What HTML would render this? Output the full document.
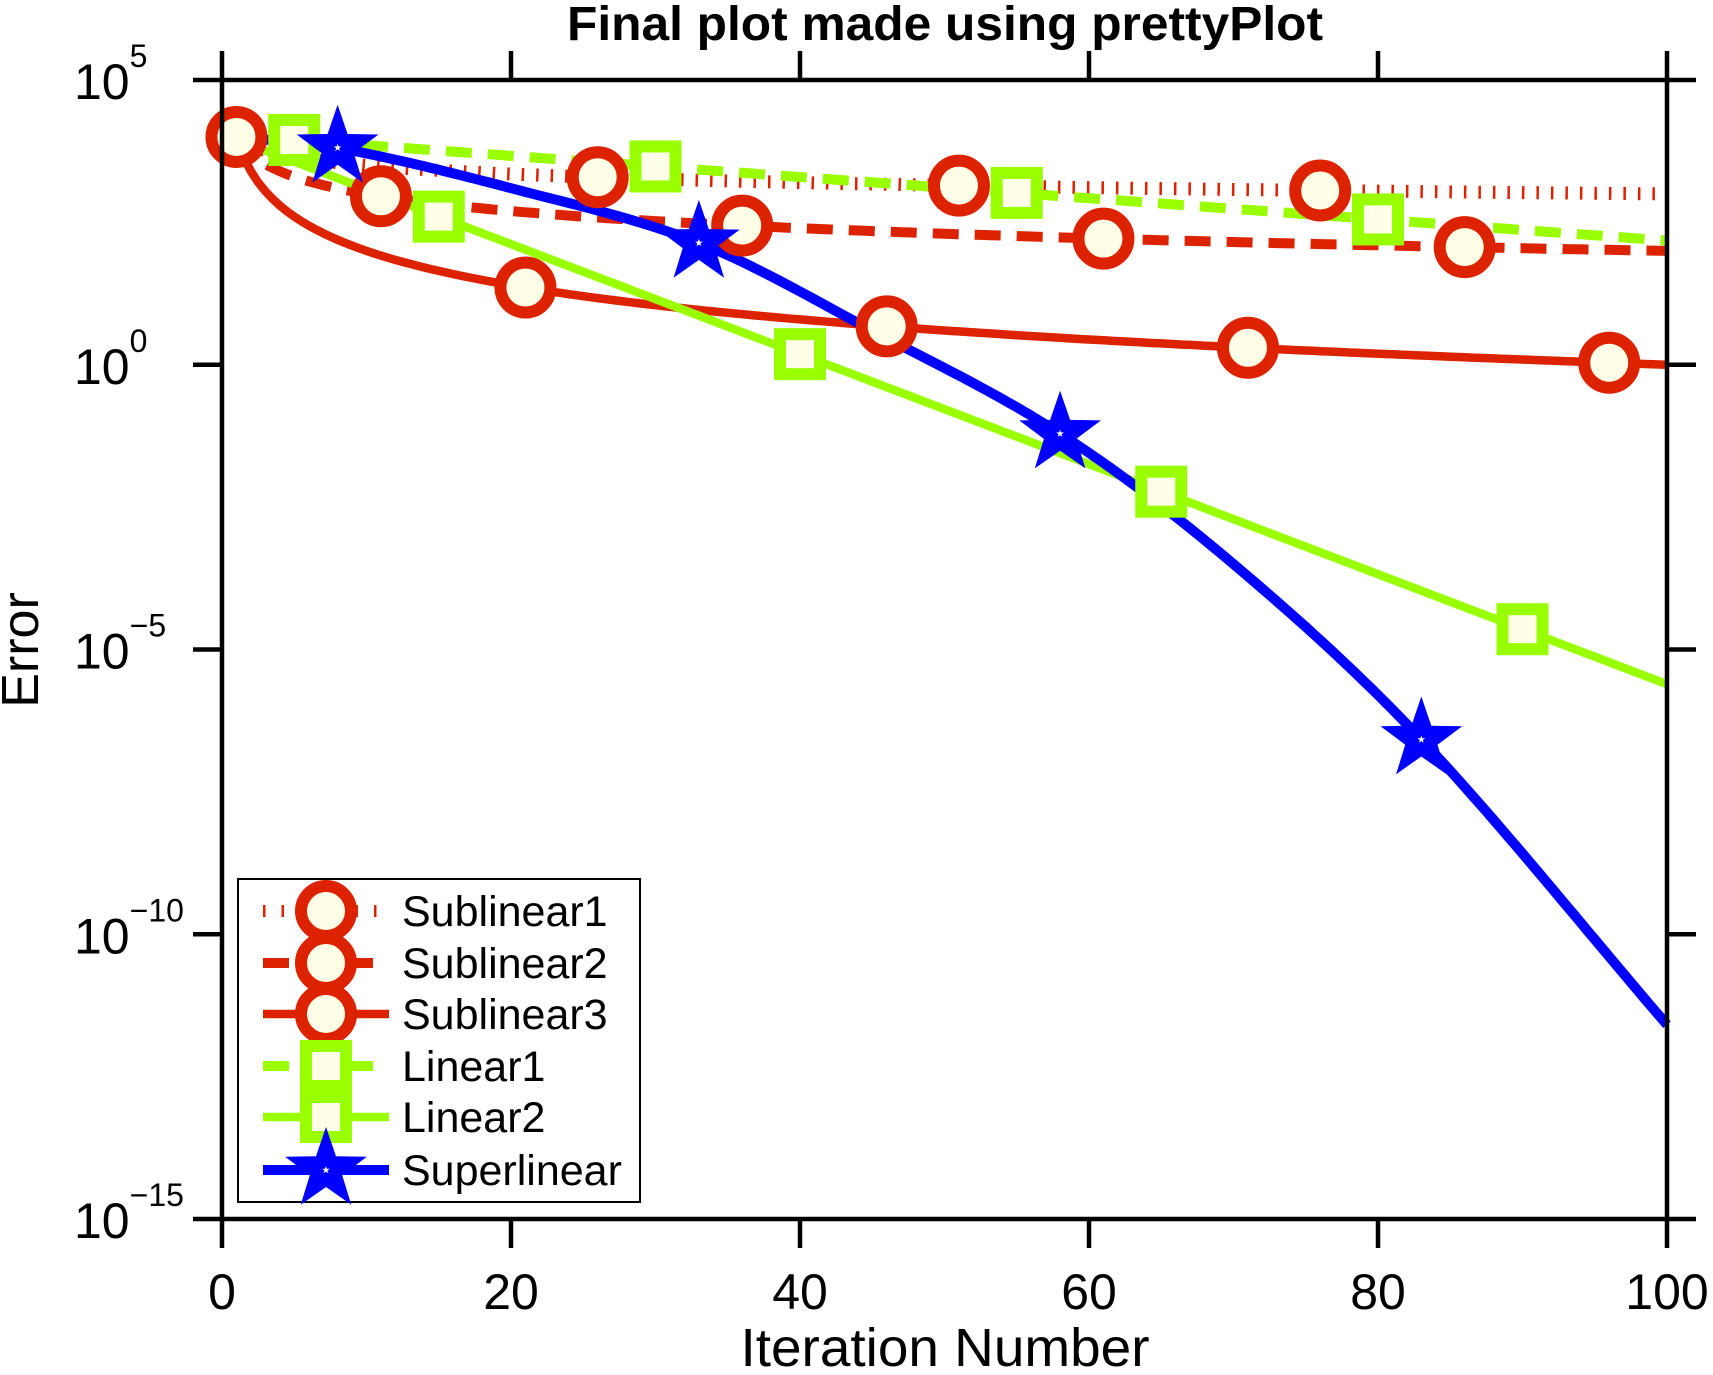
<!DOCTYPE html>
<html><head><meta charset="utf-8"><style>
html,body{margin:0;padding:0;background:#fff;}
svg{display:block;font-family:"Liberation Sans",sans-serif;}
</style></head><body>
<svg id="s" width="1713" height="1375" xmlns="http://www.w3.org/2000/svg"></svg>
<script>
const S=document.getElementById('s');
const X0=222,X1=1667,Y0=80,Y1=1219,D=(Y1-Y0)/20;
const px=x=>X0+x*(X1-X0)/100, py=l=>Y0+(5-l)*D;
let h='';
const RED='#dd2200',GRN='#99ff00',BLU='#0000ff',IV='#ffffe8';
function path(f,attrs){let d='';for(let x=1;x<=100;x+=0.5){d+=(x==1?'M':'L')+px(x).toFixed(1)+' '+py(f(x)).toFixed(1);}h+=`<path d="${d}" fill="none" ${attrs}/>`;}
const L=Math.log10;
const s1=x=>4-0.5*L(x), s2=x=>4-L(x), s3=x=>4-2*L(x);
const l1=x=>4.04-0.0186*x, l2=x=>4.05-0.0966*x;
const T=[[1,4.0],[8,3.81],[20,3.1],[33,2.14],[45,0.6],[58,-1.21],[70,-3.5],[83,-6.58],[100,-11.59]];
function sup(x){for(let i=0;i<T.length-1;i++){if(x<=T[i+1][0]){const a=T[i],b=T[i+1];const p0=T[Math.max(i-1,0)],p3=T[Math.min(i+2,T.length-1)];const t=(x-a[0])/(b[0]-a[0]);
const m1=(b[1]-p0[1])/(b[0]-p0[0])*(b[0]-a[0]),m2=(p3[1]-a[1])/(p3[0]-a[0])*(b[0]-a[0]);
const t2=t*t,t3=t2*t;return (2*t3-3*t2+1)*a[1]+(t3-2*t2+t)*m1+(-2*t3+3*t2)*b[1]+(t3-t2)*m2;}}return T[T.length-1][1];}
path(s1,`stroke="${RED}" stroke-width="13" stroke-dasharray="2.5 12"`);
path(s2,`stroke="${RED}" stroke-width="10" stroke-dasharray="26 16"`);
path(s3,`stroke="${RED}" stroke-width="8.5"`);
path(l1,`stroke="${GRN}" stroke-width="10" stroke-dasharray="26 16"`);
path(l2,`stroke="${GRN}" stroke-width="8.5"`);
path(sup,`stroke="${BLU}" stroke-width="10"`);
function circ(x,y){h+=`<circle cx="${x}" cy="${y}" r="25" fill="${IV}" stroke="${RED}" stroke-width="12"/>`;}
function sq(x,y){h+=`<rect x="${x-20}" y="${y-20}" width="40" height="40" fill="${IV}" stroke="${GRN}" stroke-width="12"/>`;}
function star(x,y){let d='';for(let i=0;i<10;i++){const r=i%2?17:43;const a=-Math.PI/2+i*Math.PI/5;d+=(i?'L':'M')+(x+r*Math.cos(a)).toFixed(1)+' '+(y+r*Math.sin(a)).toFixed(1);}
h+=`<path d="${d}Z" fill="${BLU}"/>`;let e='';for(let i=0;i<10;i++){const r=i%2?1.6:4;const a=-Math.PI/2+i*Math.PI/5;e+=(i?'L':'M')+(x+r*Math.cos(a)).toFixed(1)+' '+(y+r*Math.sin(a)).toFixed(1);}h+=`<path d="${e}Z" fill="#fff"/>`;}
[[s1,[1,26,51,76]],[s2,[11,36,61,86]],[s3,[21,46,71,96]]].forEach(([f,xs])=>xs.forEach(x=>circ(px(x),py(f(x)))));
[[l1,[5,30,55,80]],[l2,[15,40,65,90]]].forEach(([f,xs])=>xs.forEach(x=>sq(px(x),py(f(x)))));
[8,33,58,83].forEach(x=>star(px(x),py(sup(x))));
h+=`<rect x="${X0}" y="${Y0}" width="${X1-X0}" height="${Y1-Y0}" fill="none" stroke="#000" stroke-width="4.5"/>`;
for(let i=0;i<=5;i++){const x=px(i*20);h+=`<line x1="${x}" y1="${Y0-29}" x2="${x}" y2="${Y0}" stroke="#000" stroke-width="4.5"/><line x1="${x}" y1="${Y1}" x2="${x}" y2="${Y1+29}" stroke="#000" stroke-width="4.5"/>`;
h+=`<text x="${x}" y="1309" font-size="50" text-anchor="middle">${i*20}</text>`;}
for(let k=0;k<5;k++){const y=Y0+k*5*D;h+=`<line x1="${X0-29}" y1="${y}" x2="${X0}" y2="${y}" stroke="#000" stroke-width="4.5"/><line x1="${X1}" y1="${y}" x2="${X1+29}" y2="${y}" stroke="#000" stroke-width="4.5"/>`;
const e=5-5*k;const es=e<0?'\u2212'+(-e):''+e;
h+=`<text x="74" y="${y+19}" font-size="50">10<tspan font-size="32" dy="-32">${es}</tspan></text>`;}
h+=`<text x="945" y="40" font-size="48" font-weight="bold" text-anchor="middle" textLength="756" lengthAdjust="spacingAndGlyphs">Final plot made using prettyPlot</text>`;
h+=`<text x="945" y="1366" font-size="54" text-anchor="middle" textLength="409" lengthAdjust="spacingAndGlyphs">Iteration Number</text>`;
h+=`<text transform="translate(38,650) rotate(-90)" font-size="52" text-anchor="middle">Error</text>`;
h+=`<rect x="238" y="879" width="402" height="323" fill="#fff" stroke="#000" stroke-width="2"/>`;
const rows=[911,963,1014,1066,1117,1170],names=['Sublinear1','Sublinear2','Sublinear3','Linear1','Linear2','Superlinear'];
const st=[`stroke="${RED}" stroke-width="12" stroke-dasharray="2.5 16"`,`stroke="${RED}" stroke-width="10" stroke-dasharray="26 16"`,`stroke="${RED}" stroke-width="8.5"`,`stroke="${GRN}" stroke-width="10" stroke-dasharray="26 16"`,`stroke="${GRN}" stroke-width="8.5"`,`stroke="${BLU}" stroke-width="10"`];
rows.forEach((y,i)=>{h+=`<line x1="263" y1="${y}" x2="389" y2="${y}" ${st[i]}/>`;});
rows.forEach((y,i)=>{if(i<3)circ(326,y);else if(i<5)sq(326,y);else star(326,y);
h+=`<text x="402" y="${y+15}" font-size="43">${names[i]}</text>`;});
S.innerHTML=h;
</script>
</body></html>
